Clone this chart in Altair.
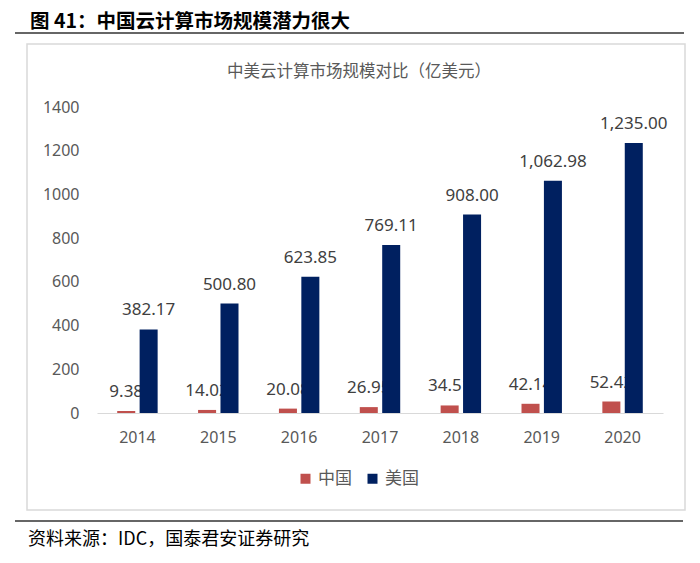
import altair as alt
import pandas as pd

years = ["2014", "2015", "2016", "2017", "2018", "2019", "2020"]
china = [9.38, 14.02, 20.08, 26.95, 34.51, 42.14, 52.42]
usa = [382.17, 500.80, 623.85, 769.11, 908.00, 1062.98, 1235.00]
series = ["中国", "美国"]
colors = ["#C0504D", "#002060"]
y_ticks = [0, 200, 400, 600, 800, 1000, 1200, 1400]

main_title = "图 41：中国云计算市场规模潜力很大"
inner_title = "中美云计算市场规模对比（亿美元）"
source_text = "资料来源：IDC，国泰君安证券研究"

rows = []
for i, yr in enumerate(years):
    rows.append({"year": yr, "country": series[0], "value": china[i], "label": f"{china[i]:,.2f}"})
    rows.append({"year": yr, "country": series[1], "value": usa[i], "label": f"{usa[i]:,.2f}"})
df = pd.DataFrame(rows)

NUM_FONT = "Noto Sans"
CJK = "Noto Sans CJK SC"

x = alt.X("year:N", sort=years,
          scale=alt.Scale(paddingInner=0.5, paddingOuter=0.25),
          axis=alt.Axis(title=None, labelAngle=0, ticks=False, domainColor="#d9d9d9",
                        domainWidth=1, labelFontSize=16, labelColor="#595959",
                        labelPadding=16, labelFont=NUM_FONT))
xoff = alt.XOffset("country:N", scale=alt.Scale(domain=series, paddingInner=0.196, paddingOuter=0))
y = alt.Y("value:Q", scale=alt.Scale(domain=[0, 1400], nice=False),
          axis=alt.Axis(values=y_ticks, format="d", title=None, grid=False, domain=False,
                        ticks=False, labelPadding=18, labelFontSize=16, labelColor="#595959",
                        labelFont=NUM_FONT))
color = alt.Color("country:N", scale=alt.Scale(domain=series, range=colors),
                  legend=alt.Legend(orient="none", legendX=200, legendY=363,
                                    direction="horizontal", title=None, symbolType="square",
                                    symbolSize=100, symbolStrokeWidth=0, labelFontSize=17,
                                    labelColor="#595959", labelFont=CJK, columnPadding=12,
                                    labelOffset=4))

base = alt.Chart(df)


def bars(name):
    return base.transform_filter(alt.datum.country == name).mark_bar().encode(
        x=x, xOffset=xoff, y=y, color=color)


def labels(name):
    return base.transform_filter(alt.datum.country == name).mark_text(
        dy=-19, baseline="middle", align="center", fontSize=17, color="#404040",
        font=NUM_FONT).encode(x=x, xOffset=xoff, y=y, text="label:N")


one = alt.Data(values=[{"t": main_title, "s": source_text, "i": inner_title}])

box = alt.Chart(one).mark_rect(fillOpacity=0, stroke="#d9d9d9", strokeWidth=1.5).encode(
    x=alt.value(-70), x2=alt.value(588), y=alt.value(-63), y2=alt.value(403))
top_rule = alt.Chart(one).mark_rule(color="#333333", strokeWidth=1.5).encode(
    x=alt.value(-82), x2=alt.value(587), y=alt.value(-74))
bottom_rule = alt.Chart(one).mark_rule(color="#333333", strokeWidth=1.5).encode(
    x=alt.value(-82), x2=alt.value(586), y=alt.value(414))
title_txt = alt.Chart(one).mark_text(align="left", baseline="middle", fontSize=19.5,
                                     fontWeight="bold", font=CJK, color="#000000").encode(
    x=alt.value(-67), y=alt.value(-85), text="t:N")
inner_txt = alt.Chart(one).mark_text(align="center", baseline="middle", fontSize=16.5,
                                     font=CJK, color="#595959").encode(
    x=alt.value(262), y=alt.value(-35), text="i:N")
source_txt = alt.Chart(one).mark_text(align="left", baseline="middle", fontSize=18,
                                      font=CJK, color="#000000").encode(
    x=alt.value(-69), y=alt.value(433), text="s:N")

chart = alt.layer(
    box, top_rule, bottom_rule, title_txt, inner_txt, source_txt,
    bars(series[0]), labels(series[0]), bars(series[1]), labels(series[1])
).properties(
    width=566, height=306,
    autosize=alt.AutoSizeParams(type="none"),
    padding={"left": 89, "top": 99, "right": 29, "bottom": 142},
    background="white",
).configure_view(stroke=None)

chart.save("out.html", embed_options={"renderer": "svg", "actions": False})
